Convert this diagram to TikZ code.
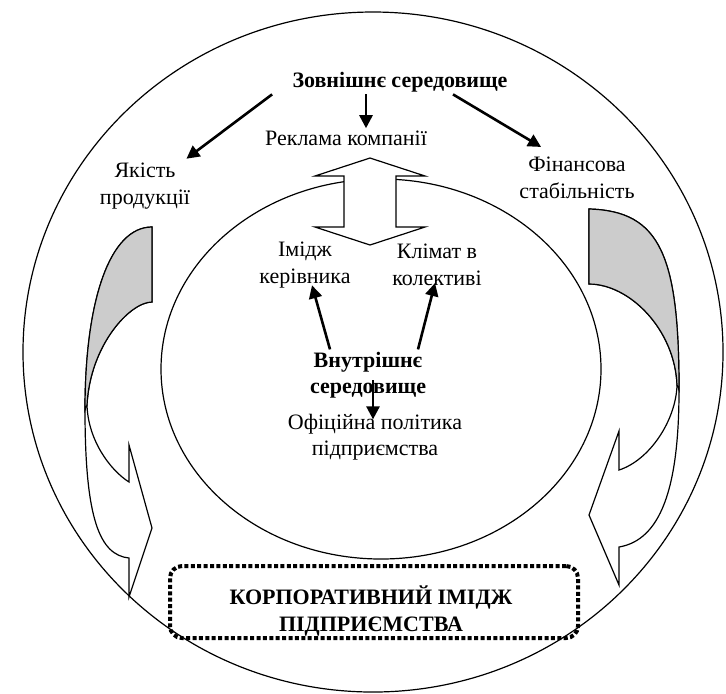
\documentclass[tikz,border=0pt]{standalone}
\usepackage{fontspec}
\setmainfont{Liberation Serif}
\usetikzlibrary{arrows.meta}

\begin{document}
\begin{tikzpicture}[
  x=0.5pt, y=-0.5pt,
  font=\fontsize{11}{13.25}\selectfont,
  lbl/.style={align=center, inner sep=1pt},
  lblbold/.style={lbl, font=\fontsize{11}{13.25}\selectfont\bfseries},
  ring/.style={draw=black, line width=0.6pt},
  arr/.style={line width=1.3pt, -{Triangle[length=6.5pt,width=6.5pt]}},
  ribbon/.style={draw=black, line width=0.6pt, fill=white},
  ribbonback/.style={draw=black, line width=0.6pt, fill=gray!40},
  dblarrow/.style={draw=black, line width=0.6pt, fill=white},
  corpbox/.style={draw=black, line width=2pt, dash pattern=on 2pt off 1.2pt,
    rounded corners=6pt, minimum width=204pt, minimum height=36pt},
]
\useasboundingbox (0,0) rectangle (726,693);

% environments
\draw[ring] (373,352) ellipse [x radius=350, y radius=340];

% left curved arrow
\draw[ribbon] (152,227) .. controls (110,227) and (85,300) .. (85,410)
  .. controls (85,520) and (100,555) .. (129,558)
  -- (129,597) -- (152,528) -- (129,445) -- (129,482)
  .. controls (110,470) and (88,440) .. (87,405)
  .. controls (90,345) and (130,302) .. (152,302) -- cycle;
\draw[ribbonback] (152,227) .. controls (110,227) and (85,300) .. (85,410)
  -- (87,405) .. controls (90,345) and (130,302) .. (152,302) -- cycle;

% right curved arrow
\draw[ribbon] (589,209) .. controls (660,211) and (679,255) .. (679,390)
  .. controls (679,490) and (660,540) .. (619,547)
  -- (619,585) -- (589,515) -- (619,431) -- (619,470)
  .. controls (650,460) and (676,420) .. (677,385)
  .. controls (675,330) and (630,284) .. (589,284) -- cycle;
\draw[ribbonback] (589,209) .. controls (660,211) and (679,255) .. (679,390)
  -- (677,385) .. controls (675,330) and (630,284) .. (589,284) -- cycle;

\draw[ring] (381,369) ellipse [x radius=220, y radius=190];

% two-way arrow
\draw[dblarrow] (370,158) -- (425,176) -- (396,176) -- (396,227) -- (425,227)
  -- (370,245) -- (315,227) -- (344,227) -- (344,176) -- (315,176) -- cycle;

\node[lblbold] (ext) at (400,82) {Зовнішнє середовище};
\node[lbl] (advert) at (346,138) {Реклама компанії};
\node[lbl] (quality) at (145,186) {Якість\\продукції};
\node[lbl] (finance) at (577,178) {Фінансова\\стабільність};
\node[lbl] (leader) at (305,265) {Імідж\\керівника};
\node[lbl] (climate) at (437,265) {Клімат в\\колективі};
\node[lblbold] (intern) at (368,375) {Внутрішнє\\середовище};
\node[lbl] (policy) at (375,437) {Офіційна політика\\підприємства};
\node[corpbox] (corp) at (374,602) {};
\node[lblbold] (corptext) at (371,611) {КОРПОРАТИВНИЙ ІМІДЖ\\ПІДПРИЄМСТВА};

\draw[arr] ([xshift=-17pt]ext.south) -- ([xshift=10pt]advert.north);
\draw[arr] ([xshift=-9pt]ext.south west) -- ([xshift=-3pt,yshift=1pt]quality.north east);
\draw[arr] ([xshift=26.5pt]ext.south) -- ([xshift=12pt,yshift=4pt]finance.north west);
\draw[arr] ([xshift=-19pt]intern.north) -- ([xshift=3.5pt,yshift=2.5pt]leader.south);
\draw[arr] ([xshift=25pt]intern.north) -- ([xshift=-1pt,yshift=2.5pt]climate.south);
\draw[arr] ([xshift=2.5pt,yshift=-2.5pt]intern.center) -- ([xshift=-1pt,yshift=-4pt]policy.north);
\end{tikzpicture}
\end{document}
